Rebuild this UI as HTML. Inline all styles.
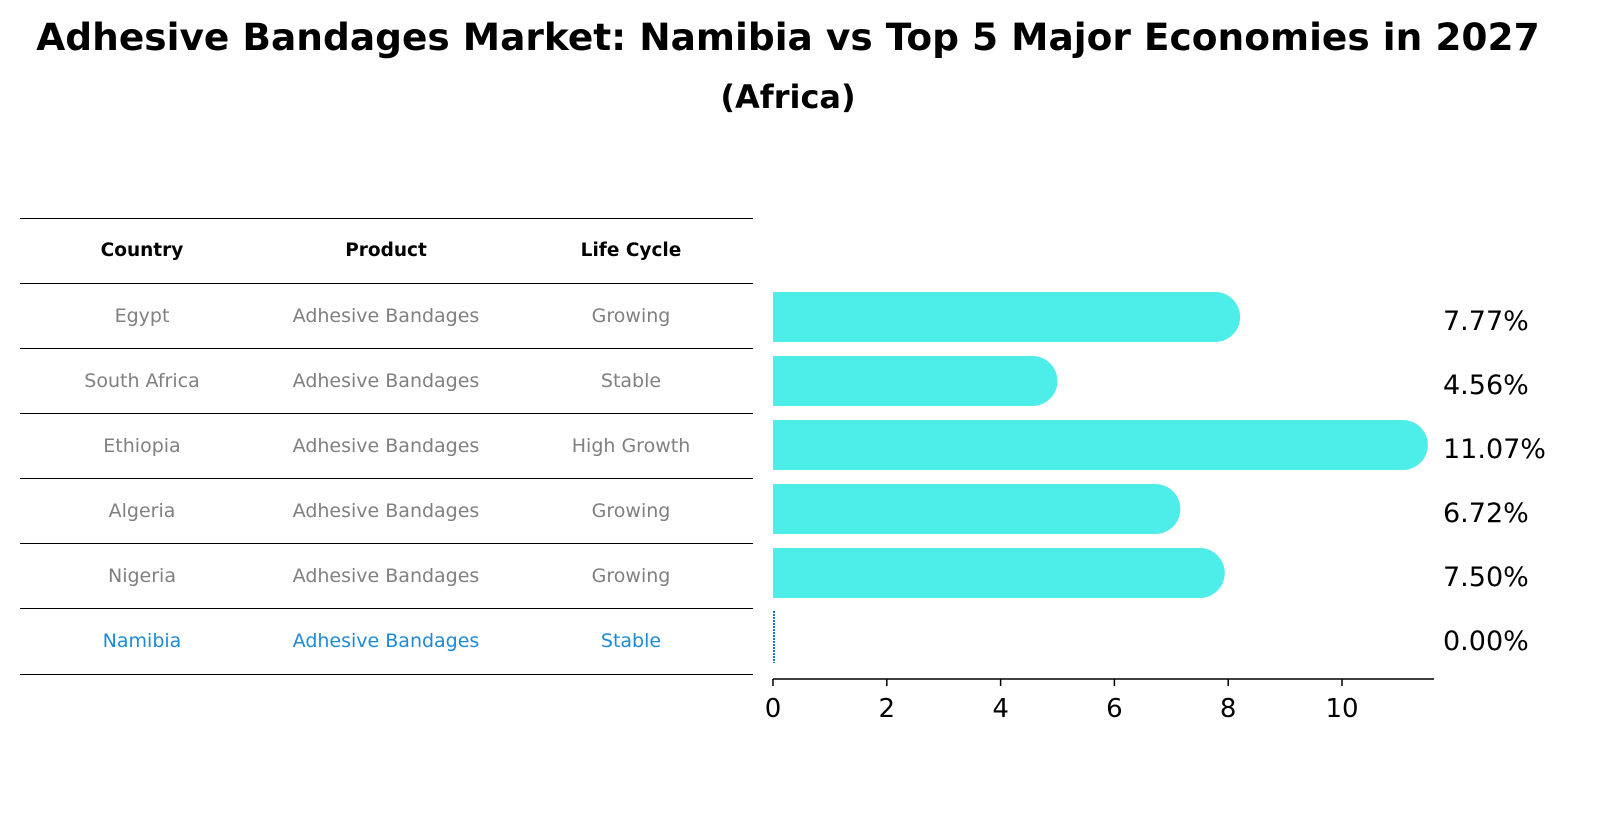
<!DOCTYPE html>
<html><head><meta charset="utf-8"><style>
body{margin:0;background:#fff;font-family:"Liberation Sans","DejaVu Sans",sans-serif}
svg text{font-family:"DejaVu Sans","Liberation Sans",sans-serif}
</style></head><body>
<svg width="1606" height="823" viewBox="0 0 1606 823" xmlns="http://www.w3.org/2000/svg">
<text x="788" y="50" text-anchor="middle" font-size="37.5" font-weight="bold">Adhesive Bandages Market: Namibia vs Top 5 Major Economies in 2027</text>
<text x="788" y="108" text-anchor="middle" font-size="32" font-weight="bold">(Africa)</text>
<g id="table"></g>
<g id="bars"></g>
</svg>
<script>
const countries=["Egypt","South Africa","Ethiopia","Algeria","Nigeria","Namibia"];
const products=["Adhesive Bandages","Adhesive Bandages","Adhesive Bandages","Adhesive Bandages","Adhesive Bandages","Adhesive Bandages"];
const lifecycles=["Growing","Stable","High Growth","Growing","Growing","Stable"];
const values=[7.77,4.56,11.07,6.72,7.50,0.00];
const ticks=[0,2,4,6,8,10];
const NS="http://www.w3.org/2000/svg";
function mk(t,a,p){const e=document.createElementNS(NS,t);for(const k in a)e.setAttribute(k,a[k]);p.appendChild(e);return e;}
const tbl=document.getElementById('table'),bars=document.getElementById('bars');
const x=v=>773+v*56.9;
const rowY=i=>317+i*64;
const lineYs=[218,283,348,413,478,543,608,674];
lineYs.forEach(y=>{const l=mk('line',{x1:20,x2:753,y1:y+0.5,y2:y+0.5,stroke:'#000','stroke-width':1},tbl);

});
const cols=[142,386,631];
["Country","Product","Life Cycle"].forEach((h,j)=>{const t=mk('text',{x:cols[j],y:256,'text-anchor':'middle','font-size':18.5,'font-weight':'bold'},tbl);t.textContent=h;

});
countries.forEach((c,i)=>{const y=322+i*65;const col=c==="Namibia"?'#1f8ad6':'#808080';
[c,products[i],lifecycles[i]].forEach((s,j)=>{const t=mk('text',{x:cols[j],y:y,'text-anchor':'middle','font-size':19,fill:col},tbl);t.textContent=s;

});
const cy=rowY(i);
if(values[i]>0){const r=25;const w=x(values[i])-773;
const p=mk('path',{d:`M773 ${cy-r} H${773+w} A${r} ${r} 0 0 1 ${773+w} ${cy+r} H773 Z`,fill:'#4deeea'},bars);

}
else{const l=mk('line',{x1:x(values[i])+1,x2:x(values[i])+1,y1:cy-26,y2:cy+26,stroke:'#1f77b4','stroke-width':2,'stroke-dasharray':'2,1'},bars);

}
const t=mk('text',{x:1443,y:cy+13,'font-size':27},bars);t.textContent=values[i].toFixed(2)+'%';

});
const ax=mk('line',{x1:773,x2:1434,y1:679,y2:679,stroke:'#000','stroke-width':1.5},bars);


ticks.forEach(v=>{const l=mk('line',{x1:x(v),x2:x(v),y1:679,y2:686,stroke:'#000','stroke-width':1.5},bars);


const t=mk('text',{x:x(v),y:717,'text-anchor':'middle','font-size':26},bars);t.textContent=v;

});
</script>
</body></html>
